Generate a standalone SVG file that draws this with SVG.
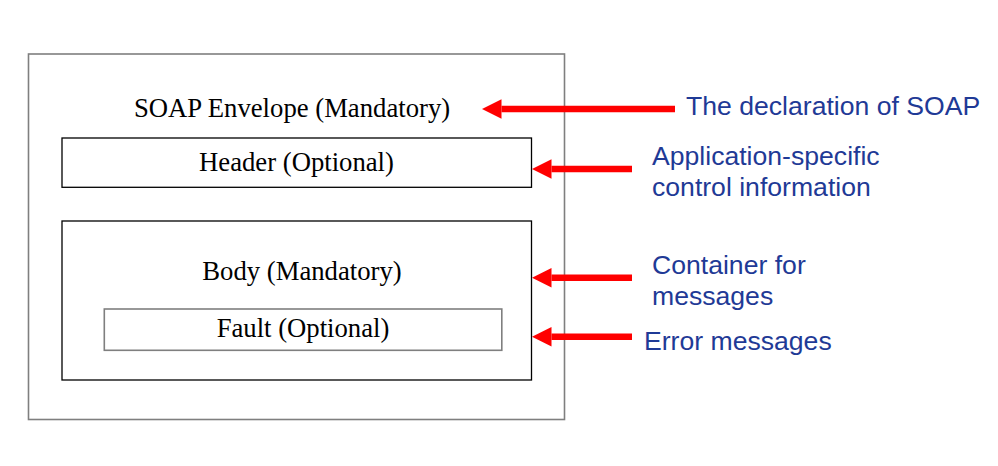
<svg xmlns="http://www.w3.org/2000/svg" width="998" height="466" viewBox="0 0 998 466">
<style>
.box{fill:none;stroke:#000;stroke-width:1.3}
.gbox{fill:none;stroke:#7f7f7f;stroke-width:1.6}
.lbl{font-family:"Liberation Serif","Times New Roman",serif;font-size:26.7px;fill:#000;text-anchor:middle}
.note{font-family:"Liberation Sans",Arial,sans-serif;font-size:26.6px;fill:#1f3a96}
.arr{stroke:#ff0000;stroke-width:6.5;fill:none;marker-end:url(#ah)}
</style>
<defs>
<marker id="ah" markerUnits="userSpaceOnUse" viewBox="0 -10 20 20" refX="0" refY="0" markerWidth="20" markerHeight="20" orient="auto" overflow="visible">
<path d="M0,-9.7 L19.5,0 L0,9.7 z" fill="#ff0000"/>
</marker>
</defs>
<rect width="998" height="466" fill="#fff"/>
<g id="envelope">
<rect class="gbox" x="28.5" y="54" width="536" height="365.5"/>
<text class="lbl" x="292" y="116.5">SOAP Envelope (Mandatory)</text>
</g>
<g id="header">
<rect class="box" x="62" y="138" width="469.5" height="49.3"/>
<text class="lbl" x="296.5" y="171">Header (Optional)</text>
</g>
<g id="body">
<rect class="box" x="62" y="221" width="469.5" height="159"/>
<text class="lbl" x="302" y="280">Body (Mandatory)</text>
</g>
<g id="fault">
<rect class="gbox" x="104.3" y="309" width="397.5" height="41.3"/>
<text class="lbl" x="303" y="337">Fault (Optional)</text>
</g>
<g id="connectors">
<line class="arr" x1="675" y1="109" x2="501.5" y2="109"/>
<line class="arr" x1="632" y1="169" x2="551.5" y2="169"/>
<line class="arr" x1="632" y1="277.7" x2="551.5" y2="277.7"/>
<line class="arr" x1="632" y1="336.7" x2="551.5" y2="336.7"/>
</g>
<g id="notes">
<text class="note" x="686" y="115">The declaration of SOAP</text>
<text class="note" x="652" y="165">Application-specific</text>
<text class="note" x="652" y="196">control information</text>
<text class="note" x="652" y="274">Container for</text>
<text class="note" x="652" y="305">messages</text>
<text class="note" x="644" y="350">Error messages</text>
</g>
</svg>
